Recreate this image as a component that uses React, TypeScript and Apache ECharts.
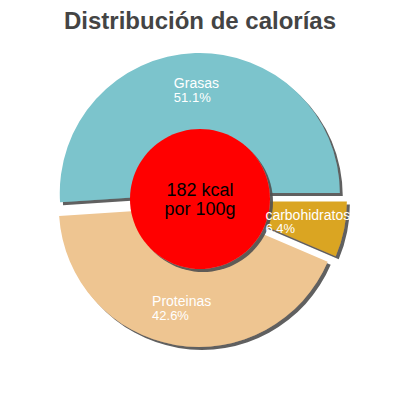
import { useEffect, useRef } from "react";
import * as echarts from "echarts";

const title = "Distribución de calorías";
const names = ["Grasas", "Proteinas", "carbohidratos"];
const values = [51.1, 42.6, 6.4];
const colors = ["#7cc4cc", "#eec591", "#daa520"];
const centerLines = ["182 kcal", "por 100g"];

const shadow = {
  shadowColor: "rgba(80,80,80,0.9)",
  shadowBlur: 1,
  shadowOffsetX: 3,
  shadowOffsetY: 3,
};

// ring settings shared by the coloured slices and the label layer
const ring = {
  type: "pie",
  center: [200, 200],
  radius: [60, 140],
  startAngle: 0,
  clockwise: false,
  selectedMode: "multiple",
  selectedOffset: 7,
  silent: true,
  labelLine: { show: false },
};

const labelFont = { align: "left", color: "#ffffff", fontFamily: "Liberation Sans", lineHeight: 14 };

export default function App() {
  const ref = useRef<HTMLDivElement>(null);

  useEffect(() => {
    document.body.style.margin = "0";
    if (!ref.current) return;
    const chart = echarts.init(ref.current, undefined, { renderer: "svg" });
    chart.setOption({
      animation: false,
      title: {
        text: title,
        left: "center",
        top: 3,
        textStyle: {
          fontFamily: "Liberation Sans",
          fontSize: 24,
          fontWeight: "bold",
          color: "#444444",
        },
      },
      series: [
        {
          ...ring,
          label: { show: false },
          itemStyle: { ...shadow },
          data: names.map((n, i) => ({
            name: n,
            value: values[i],
            selected: true,
            itemStyle: { color: colors[i] },
          })),
        },
        {
          type: "pie",
          zlevel: 1,
          center: [200, 199],
          radius: [0, 70],
          silent: true,
          label: {
            show: true,
            position: "center",
            formatter: centerLines.join("\n"),
            color: "#000000",
            fontFamily: "Liberation Sans",
            fontSize: 18,
            lineHeight: 19,
          },
          labelLine: { show: false },
          itemStyle: { color: "#ff0000", ...shadow },
          data: [{ name: "kcal", value: 1 }],
        },
        {
          ...ring,
          zlevel: 2,
          label: {
            show: true,
            position: "inside",
            formatter: (p: any) => `{n|${p.name}}\n{v|${values[p.dataIndex]}%}`,
            rich: {
              n: { ...labelFont, fontSize: 14 },
              v: { ...labelFont, fontSize: 13 },
            },
          },
          itemStyle: { color: "rgba(0,0,0,0)" },
          data: names.map((n, i) => ({ name: n, value: values[i], selected: true })),
        },
      ],
    });
    return () => chart.dispose();
  }, []);

  return <div ref={ref} style={{ width: 400, height: 400 }} />;
}
